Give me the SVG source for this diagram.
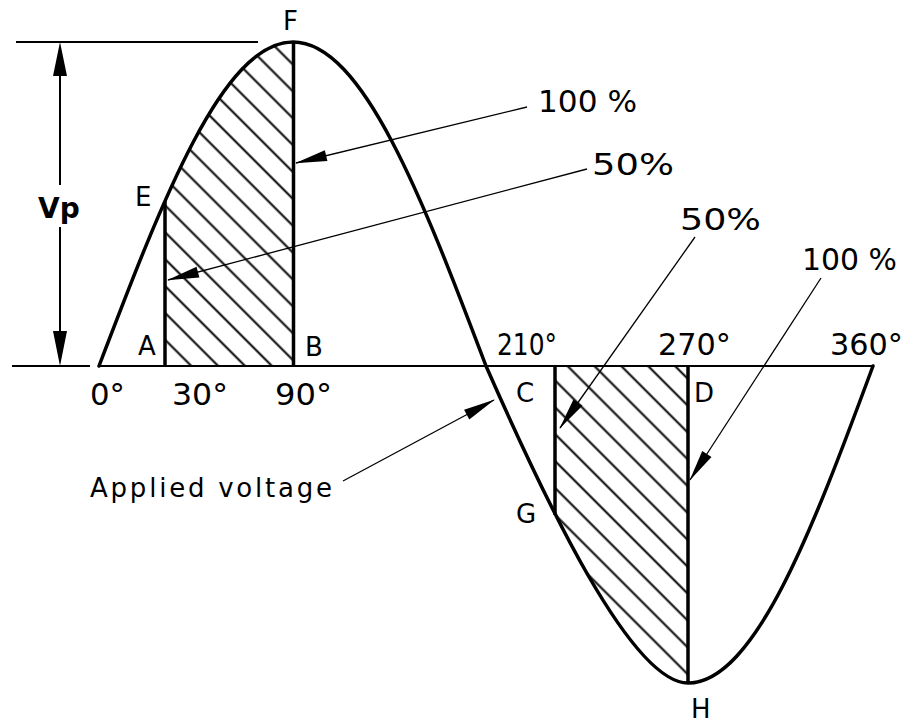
<svg xmlns="http://www.w3.org/2000/svg" width="908" height="725" viewBox="0 0 908 725">
<defs>
<style>
.curve{fill:none;stroke:#000;stroke-width:3.5;stroke-linecap:round;stroke-linejoin:round}
.axis{fill:none;stroke:#000;stroke-width:2}
.ord{fill:none;stroke:#000;stroke-width:3.5}
.lead{fill:none;stroke:#000;stroke-width:1.3;marker-end:url(#arr)}
text{font-family:"DejaVu Sans","Liberation Sans",sans-serif;fill:#000}
.lbl{font-size:26px}
.num{font-size:30px}
</style>
<pattern id="hatch" patternUnits="userSpaceOnUse" width="19" height="19" patternTransform="rotate(-45)">
<line x1="9.5" y1="-1" x2="9.5" y2="20" stroke="#000" stroke-width="2"/>
</pattern>
<marker id="arr" markerUnits="userSpaceOnUse" viewBox="-32 -7 34 14" refX="0" refY="0" markerWidth="34" markerHeight="14" orient="auto">
<path d="M1,0 L-31,-5.5 L-31,5.5 Z" fill="#000"/>
</marker>
<clipPath id="lobe1"><path d="M99,366 C162.3,200 222.8,42 293,42 C362.8,42 423.1,200 486,366 Z"/></clipPath>
<clipPath id="lobe2"><path d="M486,366 C545,500 631,683 688,683 C755,683 813,528 873,366 Z"/></clipPath>
</defs>
<rect width="908" height="725" fill="#fff"/>

<g id="hatch-positive">
<rect x="165" y="40" width="129" height="326" fill="url(#hatch)" clip-path="url(#lobe1)"/>
</g>
<g id="hatch-negative">
<rect x="555" y="366" width="133" height="320" fill="url(#hatch)" clip-path="url(#lobe2)"/>
</g>

<g id="axes">
<path class="axis" d="M12,366 H90 M99,366 H873"/>
<path class="axis" d="M16,42 H258"/>
</g>

<g id="waveform">
<path class="curve" d="M99,366 C162.3,200 222.8,42 293,42 C362.8,42 423.1,200 486,366 C545,500 631,683 688,683 C755,683 813,528 873,366"/>
</g>

<g id="vp-dimension">
<path class="axis" d="M60,75 V185 M60,227 V331"/>
<polygon points="60,42 53,76 67,76" fill="#000"/>
<polygon points="60,366 53,331 67,331" fill="#000"/>
<text x="38" y="218" font-size="28" font-weight="bold">Vp</text>
</g>

<g id="node-A"><path class="ord" d="M165,201 V366"/><text class="lbl" x="138" y="355">A</text></g>
<g id="node-E"><text class="lbl" x="135" y="206">E</text></g>
<g id="node-B"><path class="ord" d="M293.5,42 V366"/><text class="lbl" x="305" y="356">B</text></g>
<g id="node-F"><text class="lbl" x="283" y="30">F</text></g>
<g id="node-C"><text class="lbl" x="516" y="402">C</text></g>
<g id="node-G"><path class="ord" d="M555,515 V366"/><text class="lbl" x="516" y="523">G</text></g>
<g id="node-D"><path class="ord" d="M688,366 V683"/><text class="lbl" x="694" y="402">D</text></g>
<g id="node-H"><text class="lbl" x="691" y="718">H</text></g>

<g id="angle-labels">
<text class="num" x="90" y="405" textLength="35" lengthAdjust="spacingAndGlyphs">0°</text>
<text class="num" x="172" y="405" textLength="56" lengthAdjust="spacingAndGlyphs">30°</text>
<text class="num" x="275" y="405" textLength="57" lengthAdjust="spacingAndGlyphs">90°</text>
<text class="num" x="497" y="355" textLength="60" lengthAdjust="spacingAndGlyphs">210°</text>
<text class="num" x="658" y="355" textLength="73" lengthAdjust="spacingAndGlyphs">270°</text>
<text class="num" x="830" y="355" textLength="73" lengthAdjust="spacingAndGlyphs">360°</text>
</g>

<g id="percent-labels">
<text class="num" x="538" y="112" textLength="99" lengthAdjust="spacingAndGlyphs">100 %</text>
<text class="num" x="592" y="175" textLength="82" lengthAdjust="spacingAndGlyphs">50%</text>
<text class="num" x="680" y="230" textLength="81" lengthAdjust="spacingAndGlyphs">50%</text>
<text class="num" x="802" y="270" textLength="95" lengthAdjust="spacingAndGlyphs">100 %</text>
<text class="lbl" x="90" y="497" textLength="242" lengthAdjust="spacing">Applied voltage</text>
</g>

<g id="connectors">
<line class="lead" x1="527" y1="107" x2="296" y2="163"/>
<line class="lead" x1="587" y1="169" x2="168" y2="280"/>
<line class="lead" x1="695" y1="237" x2="560" y2="428"/>
<line class="lead" x1="821" y1="278" x2="690" y2="480"/>
<line class="lead" x1="343" y1="481" x2="494" y2="400"/>
</g>
</svg>
